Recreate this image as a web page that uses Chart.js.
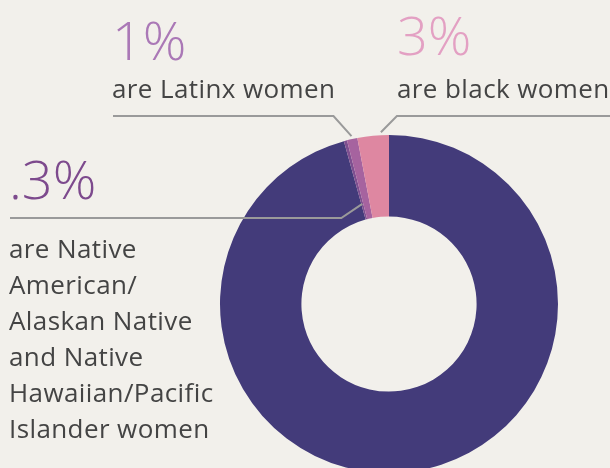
<!DOCTYPE html>
<html>
<head>
<meta charset="utf-8">
<script src="https://cdn.jsdelivr.net/npm/chart.js@4"></script>
<style>
  html, body { margin: 0; padding: 0; background: #f2f0eb; overflow: hidden; }
  #wrap { position: relative; width: 610px; height: 468px; }
  canvas { position: absolute; left: 0; top: 0; }
  .big { position: absolute; font-family: "Open Sans", sans-serif; font-weight: 300; font-size: 54px; line-height: 54px; white-space: nowrap; }
  .txt { position: absolute; font-family: "Open Sans", sans-serif; font-size: 26px; letter-spacing: 0.4px; line-height: 36px; color: #444444; white-space: nowrap; }
</style>
</head>
<body>
<div id="wrap">
  <canvas id="chartWomen" width="610" height="468"></canvas>
  <div class="big" style="left:112px; top:12px; color:#aa78b6;">1%</div>
  <div class="txt" style="left:112px; top:70px;">are Latinx women</div>
  <div class="big" style="left:397px; top:7px; color:#e3a0c3;">3%</div>
  <div class="txt" style="left:397px; top:70px;">are black women</div>
  <div class="big" style="left:9px; top:151px; color:#7d4a8d;">.3%</div>
  <div class="txt" style="left:9px; top:230px;">are Native<br>American/<br>Alaskan Native<br>and Native<br>Hawaiian/Pacific<br>Islander women</div>
</div>
<script>
const groups = ['All other', 'Native American/Alaskan Native and Native Hawaiian/Pacific Islander women', 'Latinx women', 'Black women'];
const shares = [95.7, 0.3, 1, 3];
const colors = ['#433b7a', '#7e4f90', '#a6639f', '#de87a1'];

// leader lines from the labels to the slices
const leaders = {
  id: 'leaders',
  afterDatasetsDraw(chart) {
    const ctx = chart.ctx;
    const arcs = chart.getDatasetMeta(0).data;
    const pt = (arc, f, r) => {
      const a = arc.startAngle + (arc.endAngle - arc.startAngle) * f;
      return { x: arc.x + Math.cos(a) * r, y: arc.y + Math.sin(a) * r };
    };
    ctx.save();
    ctx.strokeStyle = '#9a9a9a';
    ctx.lineWidth = 2;

    const b = pt(arcs[3], 0.75, arcs[3].outerRadius + 3);
    ctx.beginPath();
    ctx.moveTo(b.x, b.y);
    ctx.lineTo(b.x + 16, 116);
    ctx.lineTo(610, 116);
    ctx.stroke();

    const l = pt(arcs[2], 0.5, arcs[2].outerRadius + 3);
    ctx.beginPath();
    ctx.moveTo(l.x, l.y);
    ctx.lineTo(l.x - 18, 116);
    ctx.lineTo(113, 116);
    ctx.stroke();

    const n = pt(arcs[1], 0.5, arcs[1].innerRadius + 16);
    ctx.beginPath();
    ctx.moveTo(n.x, n.y);
    ctx.lineTo(n.x - 21, 218);
    ctx.lineTo(10, 218);
    ctx.stroke();
    ctx.restore();
  }
};

new Chart(document.getElementById('chartWomen').getContext('2d'), {
  type: 'doughnut',
  data: {
    labels: groups,
    datasets: [{
      data: shares,
      backgroundColor: colors,
      borderWidth: 0
    }]
  },
  options: {
    responsive: false,
    animation: false,
    radius: 169,
    cutout: 85,
    layout: { padding: { left: 220, right: 52, top: 140, bottom: 0 } },
    plugins: {
      legend: { display: false },
      tooltip: { enabled: false }
    }
  },
  plugins: [leaders]
});
</script>
</body>
</html>
